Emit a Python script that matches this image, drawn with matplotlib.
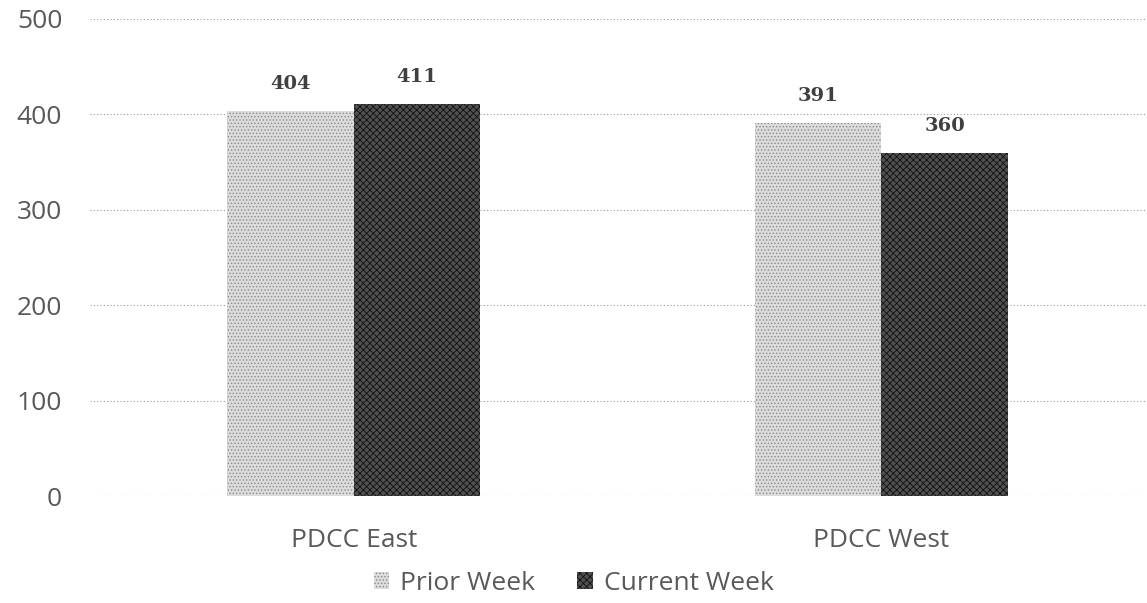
import matplotlib
matplotlib.use("Agg")
import matplotlib.pyplot as plt
import numpy as np

categories = ["PDCC East", "PDCC West"]
series_names = ["Prior Week", "Current Week"]
prior_week = [404, 391]
current_week = [411, 360]
yticks = [0, 100, 200, 300, 400, 500]

plt.rcParams['font.family'] = ['Open Sans', 'DejaVu Sans']
plt.rcParams['hatch.linewidth'] = 0.6

fig = plt.figure(figsize=(11.47, 6.03), dpi=100)
ax = fig.add_axes([90/1147, 1-496/603, 1055/1147, 477/603])

x = np.arange(len(categories))
w = 0.24
b1 = ax.bar(x - w/2, prior_week, w, facecolor='#dcdcdc', edgecolor='#8a8a8a', hatch='.....', linewidth=0, zorder=3, label=series_names[0])
b2 = ax.bar(x + w/2, current_week, w, facecolor='#505050', edgecolor='#111111', hatch='xxxxx', linewidth=0, zorder=3, label=series_names[1])

for bars, vals in ((b1, prior_week), (b2, current_week)):
    for r, v in zip(bars, vals):
        ax.annotate(str(v), (r.get_x() + r.get_width()/2, v), xytext=(0, 13), textcoords='offset points',
                    ha='center', va='bottom', fontsize=14, fontweight='bold', color='#404040',
                    family=['DejaVu Serif'])

ax.set_xlim(-0.5, 1.5)
ax.set_ylim(0, 500)
ax.set_yticks(yticks)
ax.set_xticks(x)
ax.set_xticklabels(categories)
ax.yaxis.grid(True, linestyle=(0, (1, 2)), color='#9a9a9a', linewidth=0.8, zorder=0)
for s in ax.spines.values():
    s.set_visible(False)
ax.tick_params(axis='both', length=0, labelsize=19, colors='#595959')
ax.tick_params(axis='y', pad=20)
ax.tick_params(axis='x', pad=23)

leg = fig.legend(handles=[b1, b2], labels=series_names, loc='center', bbox_to_anchor=(0.5, 1-583/603),
                 ncol=2, frameon=False, fontsize=19, handlelength=0.6, handleheight=0.6,
                 handletextpad=0.4, columnspacing=1.6, labelcolor='#595959')

fig.savefig("out.png", dpi=100)
